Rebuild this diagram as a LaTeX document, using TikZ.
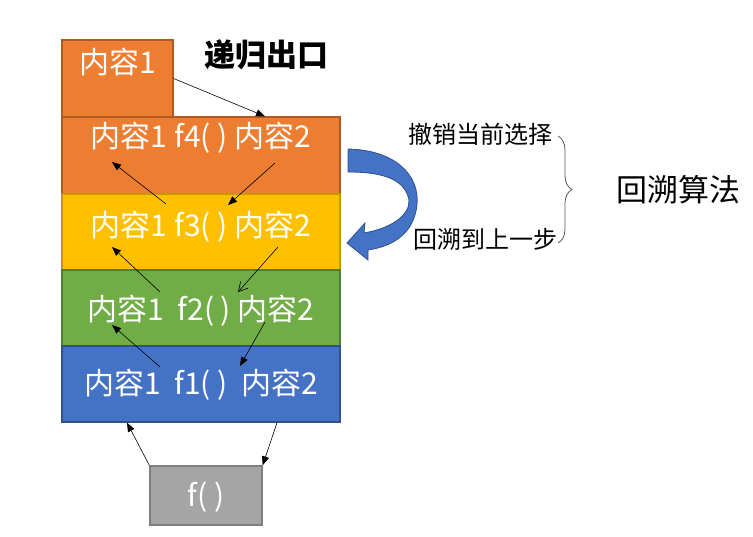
\documentclass[tikz,border=0pt]{standalone}
\usepackage{fontspec}
\setmainfont{Noto Sans CJK SC}
\usetikzlibrary{
    arrows.meta,
    calc,
    decorations.pathreplacing,
    positioning
}
\definecolor{stackorange}{HTML}{ED7D31}
\definecolor{edgeorange}{HTML}{AE5A21}
\definecolor{stackyellow}{HTML}{FFC000}
\definecolor{edgeyellow}{HTML}{C99700}
\definecolor{stackgreen}{HTML}{70AD47}
\definecolor{edgegreen}{HTML}{507E32}
\definecolor{stackblue}{HTML}{4472C4}
\definecolor{edgeblue}{HTML}{2F528F}
\definecolor{stackgray}{HTML}{A5A5A5}
\definecolor{edgegray}{HTML}{7F7F7F}
\definecolor{bracegray}{HTML}{595959}

\begin{document}
\begin{tikzpicture}[x=1pt, y=-1pt,
    frame/.style={draw, line width=1.3pt, minimum width=278pt, minimum height=76pt, inner sep=0pt},
    content/.style={text=white, inner sep=0pt, font=\fontsize{30}{36}\selectfont},
    note/.style={inner sep=0pt, font=\fontsize{24}{28}\selectfont},
    arr/.style={-{Triangle[length=9pt, width=7pt]}, line width=0.6pt},
    openarr/.style={-{Straight Barb[length=9pt, width=10pt]}, line width=0.6pt}
]
    \useasboundingbox (0, 0) rectangle (753, 536);

    \node[frame, fill=stackorange, draw=edgeorange, minimum width=111pt, minimum height=77pt] (exit) at (117.5, 78.5) {};
    \node[frame, fill=stackorange, draw=edgeorange, minimum height=77pt] (f4) at (201, 155.5) {};
    \node[frame, fill=stackyellow, draw=edgeyellow] (f3) at (201, 232) {};
    \node[frame, fill=stackgreen, draw=edgegreen] (f2) at (201, 308) {};
    \node[frame, fill=stackblue, draw=edgeblue] (f1) at (201, 384) {};
    \node[frame, fill=stackgray, draw=edgegray, minimum width=112pt, minimum height=59pt] (f) at (206, 495.5) {};

    \node[content] (exittext) at (118, 62) {内容1};
    \node[content] (f4text) at (201, 138) {内容1 f4( ) 内容2};
    \node[content] (f3text) at (201, 227) {内容1 f3( ) 内容2};
    \node[content] (f2text) at (201, 311) {内容1\ \ f2( ) 内容2};
    \node[content] (f1text) at (201, 385) {内容1\ \ f1( )\ \ 内容2};
    \node[content] (ftext) at (206, 497) {f( )};

    \node[inner sep=0pt, font=\fontsize{31}{36}\selectfont\bfseries] (exitlabel) at (266, 55) {递归出口};
    \node[note] (undo) at (480, 134) {撤销当前选择};
    \node[note] (back) at (485, 239) {回溯到上一步};
    \node[inner sep=0pt, font=\fontsize{31}{36}\selectfont] (algo) at (678, 190) {回溯算法};

    \draw[arr] (exit.east) -- ($(f4.north)+(64, 0)$);
    \draw[arr] ($(f4.center)+(74, 7.5)$) -- ($(f3.center)+(27, -27)$);
    \draw[arr] ($(f3.center)+(-35, -28)$) -- ($(f4.center)+(-89, 6.5)$);
    \draw[openarr] ($(f3.center)+(77, 15)$) -- ($(f2.center)+(37, -16)$);
    \draw[arr] ($(f2.center)+(-41, -16)$) -- ($(f3.center)+(-89, 15)$);
    \draw[arr] ($(f2.center)+(64, 14)$) -- ($(f1.center)+(39, -18)$);
    \draw[arr] ($(f1.center)+(-41, -17)$) -- ($(f2.center)+(-89, 17)$);
    \draw[arr] ($(f1.south)+(76, 0)$) -- (f.north east);
    \draw[arr] (f.north west) -- ($(f1.south)+(-74, 0)$);

    \filldraw[fill=stackblue, draw=edgeblue, line width=0.8pt]
        (348, 149) .. controls (395, 150) and (420, 175) .. (417, 205)
        .. controls (414, 232) and (395, 246) .. (368, 250)
        -- (368, 260) -- (347, 243) -- (365, 223) -- (364, 233)
        .. controls (392, 228) and (410, 215) .. (409, 200)
        .. controls (405, 180) and (385, 172) .. (348, 172) -- cycle;

    \draw[
        bracegray,
        line width=0.8pt,
        decoration={
            brace,
            amplitude=14pt
        },
        decorate
    ] (558, 136) -- (558, 243);
\end{tikzpicture}
\end{document}
